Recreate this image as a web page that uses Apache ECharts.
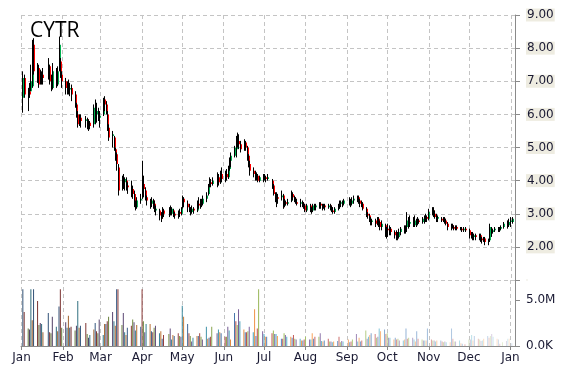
<!DOCTYPE html>
<html><head><meta charset="utf-8">
<script src="https://cdn.jsdelivr.net/npm/echarts@6/dist/echarts.min.js"></script>
<style>html,body{margin:0;padding:0;background:#fff}#c{width:570px;height:370px}</style>
</head><body><div id="c"></div>
<script>
const ticker = 'CYTR';
const monthNames = ['Jan','Feb','Mar','Apr','May','Jun','Jul','Aug','Sep','Oct','Nov','Dec'];
const priceTicks = [2, 3, 4, 5, 6, 7, 8, 9];
const volumeTicks = [0, 5000000];
const holidays = ['2014-01-01','2014-01-20','2014-02-17','2014-04-18','2014-05-26','2014-07-04','2014-09-01','2014-11-27','2014-12-25','2015-01-01'];

// daily candles: [open, close, low, high]
const ohlcJan = [[6.5,7.1,6.05,7.3],[7.1,6.6,6.5,7.2],[6.5,6.7,6.1,6.8],[6.7,6.6,6.5,6.95],[6.7,7.0,6.7,7.5],[6.85,8.2,6.8,8.25],[8.1,7.3,7.2,8.3],[7.3,7.35,6.95,7.55],[7.4,6.9,6.8,7.5],[7.0,7.2,6.9,7.35],[6.95,7.2,6.9,7.3],[7.2,7.1,6.9,7.4],[7.1,7.5,7.05,7.7],[7.45,7.0,6.9,7.5],[7.0,6.8,6.7,7.2],[6.8,7.3,6.75,7.55],[7.3,7.0,6.8,7.4],[6.9,7.3,6.85,7.45],[7.4,8.1,7.3,8.35],[7.6,7.2,7.1,7.7],[7.2,7.0,6.8,7.3]];
const ohlcFeb = [[7.0,6.8,6.6,7.1],[6.8,6.9,6.6,7.0],[6.9,6.7,6.6,7.05],[6.75,6.8,6.55,6.95],[6.8,6.6,6.4,6.9],[6.6,6.3,6.2,6.7],[6.3,6.0,5.9,6.35],[6.0,5.7,5.6,6.1],[5.75,5.9,5.65,6.0],[5.9,5.8,5.6,6.0],[5.8,5.85,5.6,5.95],[5.85,5.7,5.55,5.9],[5.7,5.75,5.5,5.85],[5.75,5.65,5.55,5.8],[5.7,6.2,5.6,6.3],[6.2,6.0,5.7,6.45],[6.0,6.1,5.75,6.35],[6.1,5.9,5.8,6.2],[5.9,5.95,5.6,6.1]];
const ohlcMar = [[6.0,6.45,5.95,6.5],[6.45,6.3,6.1,6.55],[6.3,6.05,6.0,6.4],[6.0,5.6,5.5,6.1],[5.6,5.3,5.2,5.7],[5.35,5.4,5.0,5.5],[5.3,5.0,4.9,5.35],[4.95,4.8,4.6,5.0],[4.8,4.5,4.3,4.85],[4.4,3.7,3.55,4.5],[3.75,4.05,3.7,4.15],[4.05,3.95,3.75,4.2],[3.95,4.05,3.7,4.1],[4.0,3.85,3.7,4.1],[3.85,3.8,3.6,3.95],[3.8,3.75,3.5,4.0],[3.75,3.6,3.45,3.85],[3.6,3.3,3.2,3.7],[3.3,3.2,3.1,3.4],[3.2,3.4,3.15,3.5],[3.4,3.45,3.3,3.6]];
const ohlcApr = [[3.5,3.8,3.45,4.6],[3.9,3.75,3.5,4.15],[3.7,3.5,3.4,3.8],[3.5,3.4,3.25,3.55],[3.35,3.3,3.15,3.45],[3.3,3.4,3.2,3.5],[3.4,3.3,3.15,3.45],[3.3,3.1,3.05,3.4],[3.1,3.15,2.95,3.25],[3.1,2.95,2.8,3.15],[2.95,2.85,2.75,3.05],[2.9,3.1,2.85,3.2],[3.1,3.0,2.9,3.15],[3.0,3.1,2.9,3.2],[3.1,3.0,2.95,3.25],[3.0,3.15,2.95,3.2],[3.1,3.0,2.9,3.15],[3.0,2.95,2.85,3.05],[2.95,3.05,2.85,3.1],[3.05,3.0,2.9,3.15],[3.0,3.15,2.95,3.2]];
const ohlcMay = [[3.2,3.5,3.15,3.55],[3.45,3.35,3.2,3.5],[3.3,3.2,3.05,3.4],[3.2,3.15,3.05,3.3],[3.1,3.05,2.95,3.2],[3.05,3.15,3.0,3.25],[3.15,3.1,3.0,3.2],[3.1,3.3,3.05,3.4],[3.3,3.25,3.15,3.5],[3.25,3.4,3.15,3.45],[3.4,3.3,3.2,3.45],[3.3,3.45,3.25,3.55],[3.45,3.55,3.35,3.65],[3.6,3.85,3.55,3.9],[3.85,3.95,3.8,4.1],[3.95,3.9,3.8,4.05],[3.9,4.0,3.85,4.1],[4.0,4.15,3.8,4.25],[4.1,3.95,3.85,4.2],[3.95,4.2,3.9,4.3],[4.2,4.05,3.95,4.4]];
const ohlcJun = [[4.05,4.2,3.95,4.3],[4.2,4.1,4.0,4.35],[4.1,4.35,4.05,4.45],[4.35,4.6,4.3,4.7],[4.6,4.75,4.4,4.85],[4.75,5.0,4.7,5.05],[4.95,5.3,4.7,5.35],[5.3,5.25,5.0,5.45],[5.2,5.1,4.95,5.4],[5.1,4.95,4.85,5.2],[4.95,5.15,4.9,5.25],[5.15,5.0,4.9,5.2],[5.0,4.75,4.6,5.05],[4.75,4.5,4.4,4.8],[4.5,4.3,4.15,4.6],[4.3,4.2,4.1,4.4],[4.2,4.1,4.0,4.3],[4.1,4.15,4.0,4.25],[4.15,4.0,3.95,4.2],[4.0,4.1,3.95,4.15],[4.1,4.05,3.95,4.2]];
const ohlcJul = [[4.05,4.1,4.0,4.2],[4.1,4.05,3.95,4.15],[4.05,4.1,4.0,4.2],[4.0,3.85,3.75,4.05],[3.85,3.6,3.55,3.9],[3.6,3.5,3.35,3.65],[3.4,3.5,3.2,3.65],[3.5,3.45,3.3,3.6],[3.5,3.55,3.4,3.7],[3.55,3.2,3.15,3.6],[3.25,3.35,3.2,3.45],[3.35,3.3,3.25,3.4],[3.3,3.35,3.25,3.45],[3.4,3.6,3.35,3.7],[3.6,3.5,3.4,3.65],[3.5,3.45,3.35,3.55],[3.45,3.35,3.3,3.5],[3.35,3.3,3.25,3.45],[3.3,3.35,3.2,3.45],[3.35,3.3,3.2,3.4],[3.3,3.25,3.15,3.35],[3.25,3.1,3.05,3.3]];
const ohlcAug = [[3.1,3.25,3.05,3.3],[3.25,3.15,3.05,3.3],[3.15,3.1,3.0,3.2],[3.1,3.25,3.05,3.3],[3.25,3.2,3.1,3.3],[3.2,3.25,3.1,3.3],[3.2,3.3,3.15,3.35],[3.3,3.25,3.15,3.35],[3.25,3.2,3.1,3.3],[3.2,3.25,3.15,3.3],[3.25,3.2,3.1,3.3],[3.2,3.25,3.15,3.3],[3.25,3.2,3.1,3.3],[3.2,3.1,3.05,3.25],[3.1,3.05,3.0,3.2],[3.05,3.15,3.0,3.2],[3.15,3.25,3.1,3.3],[3.25,3.3,3.15,3.4],[3.3,3.35,3.2,3.4],[3.35,3.3,3.2,3.4],[3.3,3.4,3.25,3.45]];
const ohlcSep = [[3.4,3.35,3.25,3.5],[3.35,3.3,3.2,3.45],[3.3,3.4,3.25,3.5],[3.4,3.45,3.3,3.55],[3.45,3.5,3.35,3.55],[3.5,3.4,3.3,3.55],[3.4,3.3,3.2,3.45],[3.3,3.35,3.2,3.4],[3.3,3.15,3.1,3.35],[3.15,3.0,2.9,3.2],[3.0,2.95,2.85,3.05],[2.95,2.8,2.75,3.0],[2.8,2.75,2.65,2.9],[2.75,2.8,2.65,2.85],[2.8,2.7,2.6,2.85],[2.7,2.85,2.65,2.9],[2.85,2.75,2.6,2.9],[2.75,2.6,2.5,2.8],[2.6,2.7,2.5,2.8],[2.65,2.45,2.3,2.7],[2.45,2.55,2.25,2.6]];
const ohlcOct = [[2.55,2.5,2.3,2.7],[2.5,2.55,2.35,2.65],[2.55,2.45,2.35,2.6],[2.45,2.35,2.25,2.5],[2.35,2.4,2.2,2.5],[2.4,2.3,2.2,2.45],[2.3,2.45,2.25,2.55],[2.45,2.55,2.35,2.6],[2.55,2.5,2.4,2.65],[2.5,2.6,2.4,2.65],[2.6,2.8,2.45,3.05],[2.8,2.7,2.55,2.9],[2.7,2.75,2.6,2.95],[2.75,2.65,2.6,2.9],[2.65,2.8,2.6,2.95],[2.8,2.7,2.6,2.85],[2.7,2.8,2.65,2.9],[2.8,2.75,2.7,2.85],[2.75,2.85,2.7,2.9],[2.85,2.8,2.7,2.95],[2.8,2.9,2.75,3.0],[2.9,2.85,2.75,2.95],[2.85,3.05,2.8,3.15]];
const ohlcNov = [[3.05,3.15,2.95,3.2],[3.1,3.0,2.9,3.2],[3.0,2.9,2.85,3.1],[2.9,2.85,2.75,3.0],[2.85,2.9,2.75,2.95],[2.85,2.8,2.75,2.9],[2.8,2.85,2.75,2.9],[2.85,2.8,2.7,2.9],[2.8,2.7,2.65,2.85],[2.7,2.6,2.5,2.75],[2.6,2.65,2.5,2.7],[2.65,2.6,2.55,2.7],[2.6,2.55,2.5,2.65],[2.55,2.6,2.5,2.65],[2.6,2.55,2.5,2.65],[2.55,2.55,2.5,2.6],[2.55,2.5,2.45,2.6],[2.5,2.55,2.45,2.6],[2.55,2.5,2.45,2.6]];
const ohlcDec = [[2.5,2.35,2.25,2.55],[2.35,2.4,2.25,2.45],[2.4,2.3,2.2,2.45],[2.3,2.35,2.2,2.4],[2.35,2.3,2.2,2.4],[2.3,2.35,2.2,2.4],[2.35,2.25,2.15,2.4],[2.25,2.2,2.1,2.3],[2.2,2.25,2.15,2.3],[2.25,2.15,2.05,2.3],[2.15,2.2,2.05,2.25],[2.2,2.6,2.15,2.7],[2.55,2.45,2.3,2.6],[2.45,2.5,2.4,2.55],[2.5,2.55,2.45,2.6],[2.55,2.5,2.45,2.6],[2.5,2.55,2.45,2.6],[2.55,2.6,2.5,2.65],[2.6,2.7,2.55,2.75],[2.7,2.65,2.55,2.8],[2.65,2.75,2.6,2.85],[2.75,2.8,2.6,2.9]];
const ohlcJan15 = [[2.75,2.85,2.7,2.9]];

// daily volume, millions of shares
const volJan = [6.2,3.7,1.9,1.8,6.2,2.8,6.2,4.9,2.3,2.5,2.4,1.5,3.6,1.5,1.4,3.2,2.1,1.6,4.3,6.2,2.0];
const volFeb = [2.6,2.0,3.3,2.0,2.1,1.7,2.2,4.9,2.0,2.2,2.5,1.3,0.9,1.2,1.8,2.5,1.6,1.4,2.9];
const volMar = [1.2,2.4,2.4,2.7,3.2,3.7,2.7,2.2,6.2,6.2,2.3,3.6,1.5,1.2,2.0,2.2,2.9,2.6,1.7,2.3,2.1];
const volApr = [6.2,2.7,1.5,2.4,2.4,1.6,1.5,2.0,2.2,1.4,1.6,0.8,1.2,1.3,1.9,0.7,1.2,1.1,1.4,1.1,1.0];
const volMay = [4.4,3.2,2.4,1.4,1.1,0.5,0.9,1.1,1.1,1.4,1.0,0.7,2.1,0.8,0.9,1.0,2.1,1.4,1.8,1.5,1.4];
const volJun = [1.0,1.0,2.1,1.7,0.7,3.6,2.7,2.3,4.0,2.7,1.8,1.5,1.5,1.6,2.1,1.5,4.0,1.1,1.9,6.2,1.6];
const volJul = [1.3,1.0,1.0,1.4,1.7,1.3,1.3,1.1,0.8,0.8,1.4,1.2,1.0,1.0,0.9,1.2,0.8,0.7,0.8,0.6,0.6,0.7];
const volAug = [1.0,0.7,0.7,1.4,0.8,1.0,1.0,1.4,0.55,0.5,0.6,0.8,0.5,0.5,0.4,0.5,0.55,1.0,0.4,0.55,0.5];
const volSep = [0.7,0.4,0.5,0.7,1.3,0.5,0.9,0.5,0.6,1.7,0.8,1.0,1.2,1.4,1.3,0.9,1.0,1.9,1.6,1.8,1.3];
const volOct = [1.4,0.9,0.9,0.7,0.9,0.7,0.8,0.6,0.6,0.7,1.9,0.8,0.9,0.9,0.7,0.5,1.6,0.8,0.7,0.6,0.6,0.6,1.9];
const volNov = [0.7,0.6,0.6,0.5,0.6,0.6,0.5,0.4,0.5,0.4,0.4,1.9,0.8,0.5,0.5,0.6,0.3,0.25,0.2];
const volDec = [0.7,0.7,1.2,0.6,1.1,0.8,0.7,0.55,0.6,0.8,1.1,0.9,1.1,1.3,1.0,0.8,0.7,0.25,0.4,0.55,0.8,0.8];
const volJan15 = [0.3];

function tradingDays(start, end) {
  const out = [];
  const d = new Date(start + 'T00:00:00Z'), e = new Date(end + 'T00:00:00Z');
  while (d <= e) {
    const wd = d.getUTCDay(), s = d.toISOString().slice(0, 10);
    if (wd !== 0 && wd !== 6 && holidays.indexOf(s) < 0) out.push(s);
    d.setUTCDate(d.getUTCDate() + 1);
  }
  return out;
}
const dates = tradingDays('2014-01-02', '2015-01-02');
const ohlc = [].concat(ohlcJan, ohlcFeb, ohlcMar, ohlcApr, ohlcMay, ohlcJun, ohlcJul, ohlcAug, ohlcSep, ohlcOct, ohlcNov, ohlcDec, ohlcJan15);
const vols = [].concat(volJan, volFeb, volMar, volApr, volMay, volJun, volJul, volAug, volSep, volOct, volNov, volDec, volJan15);
const n = Math.min(dates.length, ohlc.length, vols.length);
const candleData = [], volData = [];
for (let i = 0; i < n; i++) {
  candleData.push([dates[i], ohlc[i][0], ohlc[i][1], ohlc[i][2], ohlc[i][3]]);
  volData.push([dates[i], vols[i] * 1e6]);
}

const accents = [[79,129,189],[192,80,77],[155,187,89],[128,100,162],[75,172,198],[247,150,70]];
function volColor(i) {
  const base = accents[i % 6];
  const t = -0.38 + 1.15 * Math.pow(i / n, 1.6);
  const c = base.map(v => t < 0 ? Math.round(v * (1 + t)) : Math.round(v + (255 - v) * t));
  return 'rgb(' + c.join(',') + ')';
}

const gridLine = { show: true, lineStyle: { color: '#c4c4c4', type: [4, 3], width: 1 } };
const axisGrey = '#8a8a8a';
const labelFont = 'DejaVu Sans';

const chart = echarts.init(document.getElementById('c'));
chart.setOption({
  animation: false,
  backgroundColor: '#ffffff',
  title: { text: ticker, left: 25, top: 16, textStyle: { fontFamily: 'Open Sans', fontSize: 21, fontWeight: 'normal', color: '#000' } },
  grid: [
    { left: 21, right: 55, top: 15, height: 265 },
    { left: 21, right: 55, top: 280, bottom: 24 }
  ],
  xAxis: [
    { type: 'time', gridIndex: 0, min: '2014-01-01', max: '2015-01-04', splitNumber: 12,
      minInterval: 28 * 86400000, maxInterval: 31 * 86400000,
      axisLine: { show: false }, axisTick: { show: false }, axisLabel: { show: false }, splitLine: gridLine },
    { type: 'time', gridIndex: 1, min: '2014-01-01', max: '2015-01-04', splitNumber: 12,
      minInterval: 28 * 86400000, maxInterval: 31 * 86400000,
      axisLine: { show: true, lineStyle: { color: axisGrey } },
      axisTick: { show: true, length: 4, lineStyle: { color: axisGrey } },
      axisLabel: { show: true, margin: 6, color: '#1a1a33', fontFamily: labelFont, fontSize: 12, hideOverlap: false,
        formatter: v => monthNames[new Date(v).getMonth()] },
      splitLine: gridLine }
  ],
  yAxis: [
    { type: 'value', gridIndex: 0, position: 'right', min: 1, max: 9, interval: 1,
      axisLine: { show: true, lineStyle: { color: axisGrey } },
      axisTick: { show: true, length: 5, lineStyle: { color: axisGrey } },
      axisLabel: { margin: 11, color: '#1a1a33', fontFamily: labelFont, fontSize: 12,
        backgroundColor: '#EEECE1', padding: [1, 1, 0, 1],
        formatter: v => priceTicks.indexOf(v) >= 0 ? v.toFixed(2) : '' },
      splitLine: gridLine },
    { type: 'value', gridIndex: 1, position: 'right', min: 0, max: 7200000, interval: 5000000,
      axisLine: { show: true, lineStyle: { color: axisGrey } },
      axisTick: { show: true, length: 5, lineStyle: { color: axisGrey } },
      axisLabel: { margin: 11, color: '#1a1a33', fontFamily: labelFont, fontSize: 12,
        formatter: v => volumeTicks.indexOf(v) < 0 ? '' : (v === 0 ? '0.0K' : (v / 1e6).toFixed(1) + 'M') },
      splitLine: { show: false } }
  ],
  series: [
    { type: 'custom', xAxisIndex: 0, yAxisIndex: 0, data: candleData,
      encode: { x: 0, y: [1, 2, 3, 4] },
      renderItem: function (params, api) {
        const t = api.value(0);
        const o = api.value(1), c = api.value(2), l = api.value(3), h = api.value(4);
        const po = api.coord([t, o]), pc = api.coord([t, c]), pl = api.coord([t, l]), ph = api.coord([t, h]);
        const px = Math.round(po[0]);
        const top = Math.min(po[1], pc[1]);
        const hgt = Math.max(Math.abs(pc[1] - po[1]), 1);
        return { type: 'group', children: [
          { type: 'rect', shape: { x: px, y: top, width: 2, height: hgt }, style: { fill: c >= o ? '#00B050' : '#FF0000' } },
          { type: 'line', shape: { x1: px + 0.5, y1: ph[1], x2: px + 0.5, y2: pl[1] }, style: { stroke: '#000', lineWidth: 1 } }
        ] };
      } },
    { type: 'bar', xAxisIndex: 1, yAxisIndex: 1, data: volData, barWidth: 1,
      itemStyle: { color: p => volColor(p.dataIndex) } }
  ]
});
</script>
</body></html>
